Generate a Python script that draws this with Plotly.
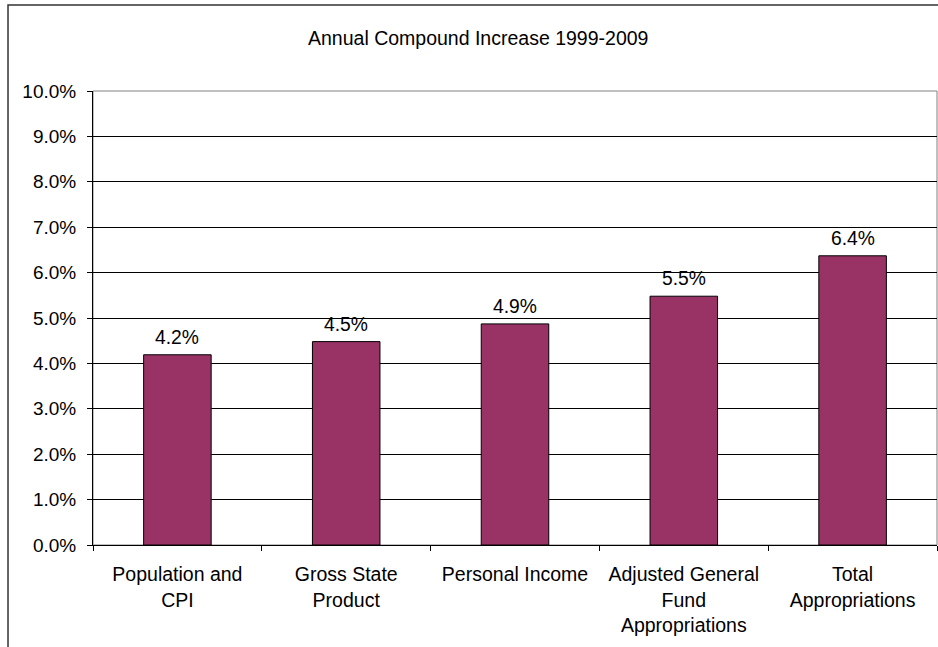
import plotly.graph_objects as go

categories = ["Population and<br>CPI", "Gross State<br>Product", "Personal Income",
              "Adjusted General<br>Fund<br>Appropriations", "Total<br>Appropriations"]
values = [0.0419, 0.0448, 0.0487, 0.0548, 0.0637]
title_text = "Annual Compound Increase 1999-2009"

FONT = "Liberation Sans, Arial, sans-serif"
BAR_COLOR = "#993366"

fig = go.Figure()
fig.add_trace(go.Bar(
    x=categories, y=values,
    marker=dict(color=BAR_COLOR, line=dict(color="#000000", width=1)),
    hoverinfo="skip",
))

for c, v in zip(categories, values):
    fig.add_annotation(x=c, y=v, xref="x", yref="y", text=f"{v*100:.1f}%",
                       showarrow=False, yanchor="bottom", yshift=5,
                       font=dict(family=FONT, size=19.3, color="#000000"))

fig.add_annotation(x=0.456, y=1.1167, xref="paper", yref="paper", text=title_text,
                   showarrow=False, xanchor="center", yanchor="middle",
                   font=dict(family=FONT, size=19.5, color="#000000"))

# outer chart frame
fig.add_shape(type="rect", xref="paper", yref="paper",
              x0=-0.1007, x1=1.2, y0=-0.5, y1=1.1894,
              line=dict(color="#333333", width=1.5), layer="below")
# plot-area border
fig.add_shape(type="rect", xref="paper", yref="paper",
              x0=0, x1=1, y0=0, y1=1,
              line=dict(color="#808080", width=1), layer="below")

fig.update_layout(
    width=938, height=647,
    margin=dict(l=93, r=1, t=91, b=102, pad=0),
    paper_bgcolor="white", plot_bgcolor="white",
    bargap=0.6, showlegend=False,
    font=dict(family=FONT, size=19, color="#000000"),
)
fig.update_xaxes(
    type="category", tickson="boundaries", ticks="outside", ticklen=5,
    tickcolor="#000000", showline=True, linecolor="#000000", linewidth=1,
    showgrid=False, ticklabelstandoff=12,
    tickfont=dict(family=FONT, size=19.5, color="#000000"),
)
fig.update_yaxes(
    range=[0, 0.1], dtick=0.01, tickformat=".1%", ticks="outside", ticklen=5,
    tickcolor="#000000", showline=True, linecolor="#000000", linewidth=1,
    showgrid=True, gridcolor="#000000", gridwidth=1, zeroline=False,
    ticklabelstandoff=7,
    tickfont=dict(family=FONT, size=19, color="#000000"),
)

fig.write_html("out.html", config={"displayModeBar": False},
               post_script="document.body.style.margin='0';")
